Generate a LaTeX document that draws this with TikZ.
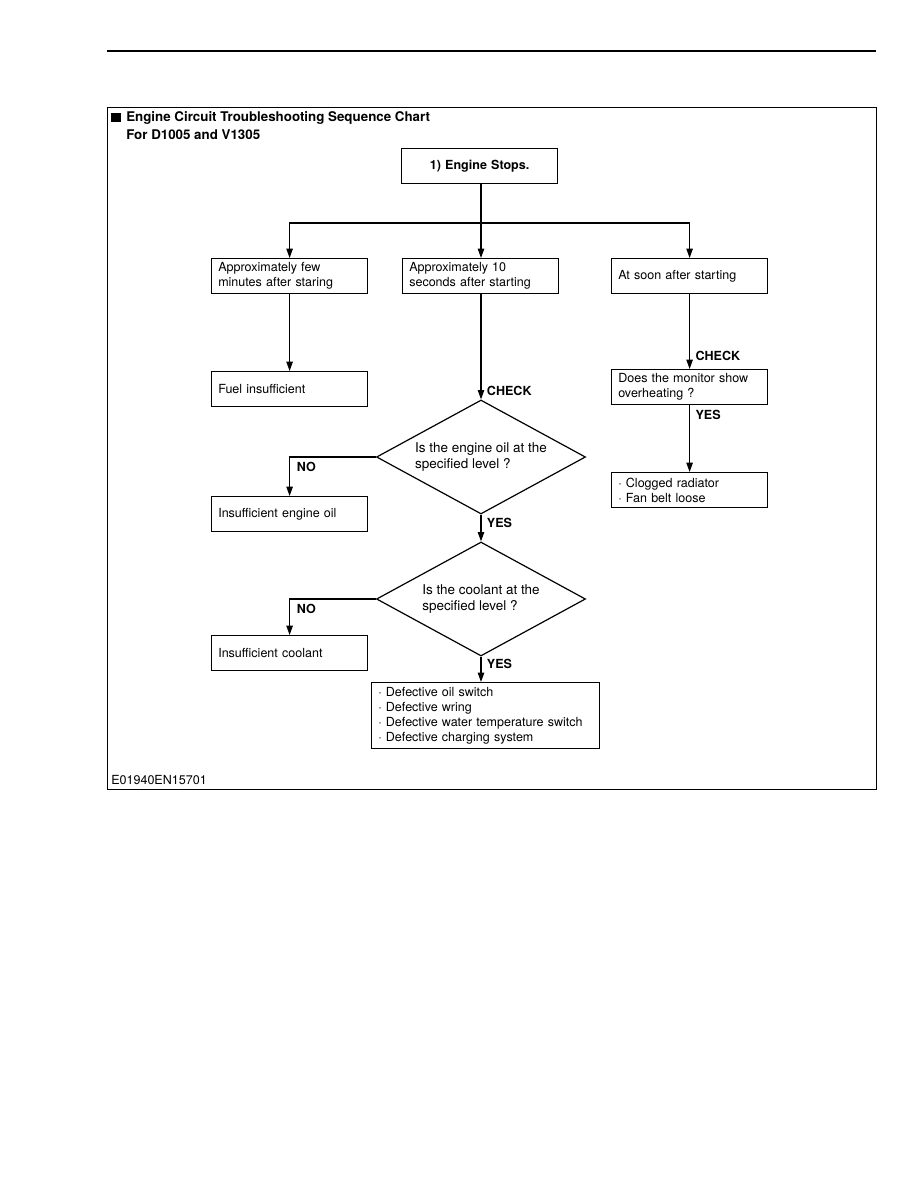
\documentclass[tikz,border=0pt]{standalone}
\usepackage{fontspec}
\setmainfont{TeX Gyre Heros}
\usetikzlibrary{arrows.meta,shapes.geometric}

\tikzset{
    box/.style={draw, line width=0.9pt, anchor=north west, minimum width=117pt, minimum height=26.25pt,
        inner xsep=5pt, inner ysep=0pt, text width=107pt, align=left, font=\fontsize{9.4}{11.2}\selectfont},
    query/.style={draw, line width=0.9pt, diamond, aspect=1.83, minimum width=156.75pt, minimum height=85.5pt,
        inner sep=0pt, align=left, font=\fontsize{10.1}{12}\selectfont},
    tag/.style={anchor=west, font=\bfseries\fontsize{9.4}{11}\selectfont, inner sep=0pt},
    link/.style={line width=0.9pt},
    arr/.style={line width=0.9pt, -{Triangle[length=7pt,width=4.8pt]}},
}

\begin{document}
\begin{tikzpicture}[x=0.75pt, y=-0.75pt]
    \useasboundingbox (0,0) rectangle (918,1188);

    % Page rule and frame
    \draw[line width=0.8pt] (107,51) -- (876,51);
    \draw[line width=0.7pt] (107,107) rectangle (876,789);

    % Heading
    \fill (111,113) rectangle (121,122);
    \node[anchor=base west, inner sep=0pt, font=\bfseries\fontsize{10}{12}\selectfont] (title) at (126,122) {Engine Circuit Troubleshooting Sequence Chart};
    \node[anchor=base west, inner sep=0pt, font=\bfseries\fontsize{10}{12}\selectfont] (models) at (126,139) {For D1005 and V1305};

    % Start
    \node[box, align=center, font=\bfseries\fontsize{9.4}{11}\selectfont] (start) at (401,148) {1) Engine Stops.};
    \coordinate (split) at (481,223);

    % Three time cases
    \node[box] (fewmin) at (211,258) {Approximately few\\minutes after staring};
    \node[box] (tensec) at (402,258) {Approximately 10\\seconds after starting};
    \node[box] (soon) at (611,258) {At soon after starting};

    \draw[link] (split |- start.south) -- (split);
    \draw[arr] (split) -| (fewmin);
    \draw[arr] (split) -- (split |- tensec.north);
    \draw[arr] (split) -| (soon);

    % Left branch
    \node[box] (fuel) at (211,371) {Fuel insufficient};
    \draw[arr] (fewmin) -- (fuel);

    % Middle branch: oil check
    \node[query] (oilq) at (481,457) {Is the engine oil at the\\specified level ?};
    \draw[arr] (tensec.south -| oilq) -- (oilq.north) node[tag, pos=0.92, xshift=4pt] {CHECK};

    \node[box] (lowoil) at (211,496) {Insufficient engine oil};
    \draw[arr] (oilq.west) -| (lowoil) node[tag, pos=0.63, xshift=5pt] {NO};

    % Coolant check
    \node[query] (coolq) at (481,599) {Is the coolant at the\\specified level ?};
    \draw[arr] (oilq.south) -- (coolq.north) node[tag, pos=0.3, xshift=4pt] {YES};

    \node[box] (lowcool) at (211,635) {Insufficient coolant};
    \draw[arr] (coolq.west) -| (lowcool) node[tag, pos=0.64, xshift=5pt] {NO};

    \node[box, minimum width=171pt, text width=161pt, minimum height=49.5pt] (defects) at (371,682)
        {· Defective oil switch\\· Defective wring\\· Defective water temperature switch\\· Defective charging system};
    \draw[arr] (coolq.south) -- (coolq.south |- defects.north) node[tag, pos=0.3, xshift=4pt] {YES};

    % Right branch
    \node[box] (monitor) at (611,369) {Does the monitor show\\overheating ?};
    \draw[arr] (soon) -- (monitor) node[tag, pos=0.82, xshift=4pt] {CHECK};

    \node[box] (radiator) at (611,472) {· Clogged radiator\\· Fan belt loose};
    \draw[arr] (monitor) -- (radiator) node[tag, pos=0.15, xshift=4pt] {YES};

    % Figure code
    \node[anchor=base west, inner sep=0pt, font=\fontsize{9.4}{11}\selectfont] (code) at (111,784) {E01940EN15701};
\end{tikzpicture}
\end{document}
